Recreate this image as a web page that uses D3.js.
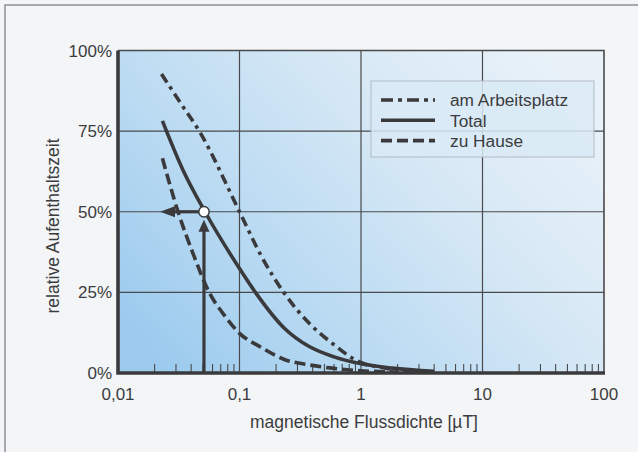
<!DOCTYPE html>
<html><head><meta charset="utf-8">
<script src="https://cdn.jsdelivr.net/npm/d3@7"></script>
<style>
html,body{margin:0;padding:0;background:#f3f5f6;}
svg{display:block;}
text{font-family:"Liberation Sans",Arial,Helvetica,sans-serif;fill:#3c3c3e;}
</style></head>
<body>
<svg id="c" width="638" height="452"></svg>
<script>
// ---- data ----
const yTicks = [0, 25, 50, 75, 100];
const yTickLabels = ["0%", "25%", "50%", "75%", "100%"];
const xTicks = [0.01, 0.1, 1, 10, 100];
const xTickLabels = ["0,01", "0,1", "1", "10", "100"];
const seriesNames = ["am Arbeitsplatz", "Total", "zu Hause"];

const xArbeit = [0.0228, 0.033, 0.047, 0.1, 0.15, 0.234, 0.375, 0.58, 0.96, 1.6, 3];
const yArbeit = [92.7, 83.5, 74.8, 50, 36.5, 24.7, 15.4, 9.2, 3.5, 1.5, 0.4];

const xTotal = [0.0232, 0.0343, 0.052, 0.1, 0.137, 0.234, 0.375, 0.6, 0.96, 1.8, 4];
const yTotal = [78.2, 62.9, 50, 32.4, 24.7, 13.9, 8.2, 5, 3, 1.5, 0.5];

const xHause = [0.0232, 0.0312, 0.0414, 0.0568, 0.073, 0.1, 0.15, 0.234, 0.375, 0.58, 1, 2];
const yHause = [66.6, 50, 37.1, 24.7, 18.5, 12.3, 8, 4.2, 2.5, 1.5, 0.7, 0.3];

const markerX = 0.051;   // reading example
const markerY = 50;

// ---- layout ----
const svg = d3.select("#c");
const L = 118, R = 604, T = 50.5, B = 373;
const x = d3.scaleLog().domain([0.01, 100]).range([L, R]);
const y = d3.scaleLinear().domain([0, 100]).range([B, T]);
const ink = "#3a3a3c";

// outer frame (left + top)
svg.append("path").attr("d", "M5,452 V5 H638").attr("fill", "none")
  .attr("stroke", "#8d9196").attr("stroke-width", 1.5);

// gradient background
const defs = svg.append("defs");
const g = defs.append("linearGradient").attr("id", "bg")
  .attr("x1", "0").attr("y1", "0.8").attr("x2", "1").attr("y2", "0.2");
g.append("stop").attr("offset", "0").attr("stop-color", "#9dcbee");
g.append("stop").attr("offset", "0.3").attr("stop-color", "#b9daf2");
g.append("stop").attr("offset", "0.65").attr("stop-color", "#d6e8f5");
g.append("stop").attr("offset", "1").attr("stop-color", "#e9f2f9");
svg.append("rect").attr("x", L).attr("y", T).attr("width", R - L).attr("height", B - T)
  .attr("fill", "url(#bg)");

// grid
svg.append("g").selectAll("line").data(yTicks.filter(d => d > 0 && d < 100)).join("line")
  .attr("x1", L).attr("x2", R).attr("y1", d => y(d)).attr("y2", d => y(d))
  .attr("stroke", "#4a4a4c").attr("stroke-width", 1.2);
svg.append("g").selectAll("line").data(xTicks.filter(d => d > 0.01 && d < 100)).join("line")
  .attr("y1", T).attr("y2", B).attr("x1", d => x(d)).attr("x2", d => x(d))
  .attr("stroke", "#4a4a4c").attr("stroke-width", 1.2);

// minor ticks
const minor = [];
[0.01, 0.1, 1, 10].forEach(p => { for (let k = 2; k <= 9; k++) minor.push(p * k); });
svg.append("g").selectAll("line").data(minor).join("line")
  .attr("x1", d => x(d)).attr("x2", d => x(d)).attr("y1", B).attr("y2", B - 9)
  .attr("stroke", "#4a4a4c").attr("stroke-width", 1.1);

// plot border top/right
svg.append("path").attr("d", `M${L},${T} H${R} V${B}`).attr("fill", "none")
  .attr("stroke", "#4a4a4c").attr("stroke-width", 1.6);

// legend
const lg = svg.append("g");
lg.append("rect").attr("x", 371).attr("y", 81).attr("width", 223).attr("height", 76)
  .attr("fill", "#d9eaf6").attr("fill-opacity", 0.85).attr("stroke", "#b4bcc3").attr("stroke-width", 1);
const dashes = ["12,5,4,5", null, "11,5"];
seriesNames.forEach((n, i) => {
  const yy = 100 + i * 20.3;
  lg.append("line").attr("x1", 381).attr("x2", 435).attr("y1", yy).attr("y2", yy)
    .attr("stroke", ink).attr("stroke-width", 3.6).attr("stroke-dasharray", dashes[i]);
  lg.append("text").attr("x", 450).attr("y", yy + 6.2).attr("font-size", 17.3).text(n);
});

// curves
const line = d3.line().x(d => x(d[0])).y(d => y(d[1])).curve(d3.curveMonotoneX);
const series = [
  [d3.zip(xArbeit, yArbeit), "10,5,3.5,5"],
  [d3.zip(xTotal, yTotal), null],
  [d3.zip(xHause, yHause), "11,5"]
];
series.forEach(([pts, da]) => {
  svg.append("path").attr("d", line(pts)).attr("fill", "none").attr("stroke", ink)
    .attr("stroke-width", 3.6).attr("stroke-dasharray", da);
});

// axes (thick left + bottom)
svg.append("path").attr("d", `M${L},${T} V${B} H${R + 1}`).attr("fill", "none")
  .attr("stroke", ink).attr("stroke-width", 3.6);

// reading arrows
const mx = x(markerX), my = y(markerY);
svg.append("line").attr("x1", mx).attr("x2", mx).attr("y1", B).attr("y2", my + 16)
  .attr("stroke", ink).attr("stroke-width", 3.2);
svg.append("path").attr("d", `M${mx},${my + 8} L${mx - 5.5},${my + 20} L${mx + 5.5},${my + 20} Z`).attr("fill", ink);
svg.append("line").attr("x1", mx).attr("x2", x(0.01) + 57).attr("y1", my).attr("y2", my)
  .attr("stroke", ink).attr("stroke-width", 3.2);
svg.append("path").attr("d", `M${x(0.01) + 42},${my} L${x(0.01) + 57},${my - 5.5} L${x(0.01) + 57},${my + 5.5} Z`).attr("fill", ink);
svg.append("circle").attr("cx", mx).attr("cy", my).attr("r", 5.2)
  .attr("fill", "#ffffff").attr("stroke", ink).attr("stroke-width", 1.5);

// tick labels
svg.append("g").selectAll("text").data(yTicks).join("text")
  .attr("x", 112).attr("y", d => y(d) + 6).attr("text-anchor", "end").attr("font-size", 17)
  .text((d, i) => yTickLabels[i]);
svg.append("g").selectAll("text").data(xTicks).join("text")
  .attr("x", d => x(d)).attr("y", 399.5).attr("text-anchor", "middle").attr("font-size", 17)
  .text((d, i) => xTickLabels[i]);

// axis titles
svg.append("text").attr("x", 364).attr("y", 428).attr("text-anchor", "middle")
  .attr("font-size", 17.5).text("magnetische Flussdichte [µT]");
svg.append("text").attr("transform", "translate(59,226) rotate(-90)").attr("text-anchor", "middle")
  .attr("font-size", 17.5).text("relative Aufenthaltszeit");
</script>
</body></html>
